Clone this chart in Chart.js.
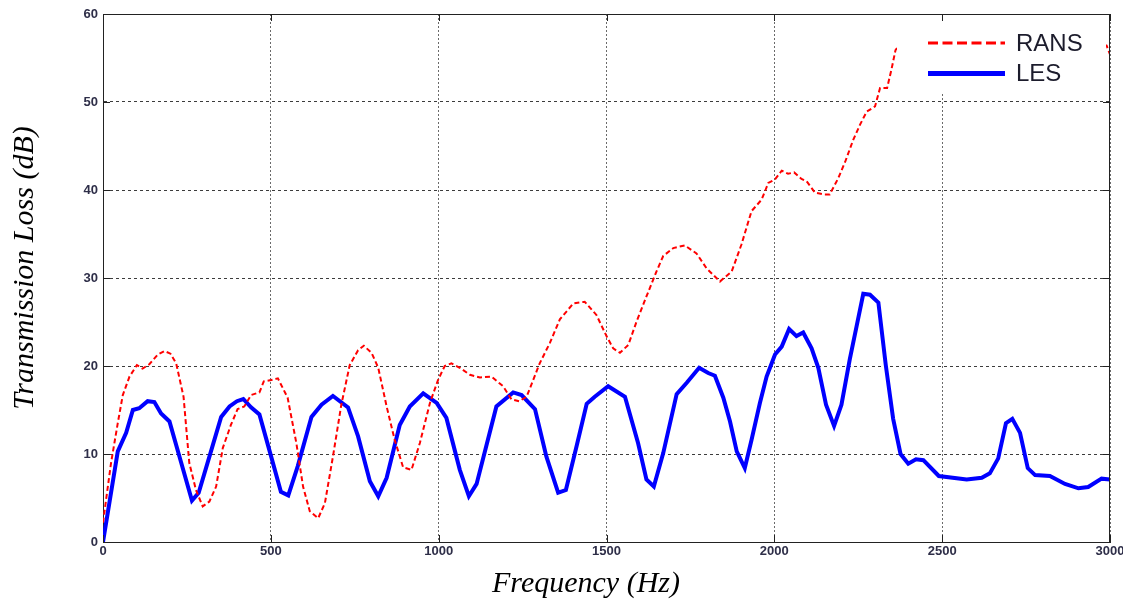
<!DOCTYPE html>
<html>
<head>
<meta charset="utf-8">
<script src="https://cdn.jsdelivr.net/npm/chart.js@4.4.1/dist/chart.umd.min.js"></script>
<style>
  html, body { margin: 0; padding: 0; background: #ffffff; }
  #wrap { width: 1123px; height: 605px; }
</style>
</head>
<body>
<div id="wrap"><canvas id="tl" width="1123" height="605"></canvas></div>
<script>
// Transmission loss spectra, frequency in Hz, TL in dB
const lesFreq = [0, 44, 69, 89, 108, 133, 153, 173, 198, 233, 265, 285, 317, 352, 377, 399, 418, 441, 466,
  501, 530, 552, 580, 621, 651, 685, 730, 760, 795, 820, 845, 884, 914, 954, 994, 1023, 1063, 1090, 1113,
  1172, 1222, 1247, 1287, 1321, 1356, 1379, 1411, 1441, 1465, 1505, 1555, 1594, 1619, 1641, 1669, 1709,
  1739, 1776, 1803, 1823, 1848, 1868, 1888, 1912, 1932, 1957, 1977, 2002, 2022, 2044, 2066, 2086, 2111,
  2131, 2154, 2178, 2200, 2225, 2245, 2265, 2285, 2310, 2332, 2354, 2376, 2399, 2422, 2444, 2490, 2573,
  2618, 2642, 2667, 2690, 2709, 2732, 2755, 2777, 2821, 2866, 2906, 2935, 2975, 3000];
const lesTL = [0, 10.3, 12.4, 15.0, 15.2, 16.0, 15.9, 14.6, 13.7, 9.0, 4.7, 5.6, 9.7, 14.2, 15.4, 16.0, 16.25, 15.3, 14.5,
  9.7, 5.7, 5.3, 8.6, 14.2, 15.6, 16.6, 15.3, 12.0, 6.9, 5.2, 7.3, 13.3, 15.4, 16.9, 15.8, 14.1, 8.2, 5.2, 6.6,
  15.4, 17.0, 16.7, 15.1, 9.7, 5.6, 5.9, 10.9, 15.7, 16.5, 17.7, 16.5, 11.25, 7.1, 6.3, 10.1, 16.8,
  18.1, 19.8, 19.2, 18.9, 16.4, 13.7, 10.3, 8.4, 11.6, 15.8, 18.8, 21.3, 22.2, 24.2, 23.4, 23.8, 22.0,
  19.8, 15.6, 13.2, 15.6, 20.8, 24.5, 28.2, 28.1, 27.2, 20.1, 14.0, 10.0, 8.9, 9.4, 9.3, 7.5, 7.1,
  7.3, 7.8, 9.5, 13.5, 14.0, 12.4, 8.4, 7.6, 7.5, 6.6, 6.1, 6.25, 7.2, 7.1];

const ransFreq = [0, 24, 44, 59, 79, 101, 118, 138, 163, 183, 201, 218, 240, 257, 277, 297, 317, 337, 357, 381,
  401, 421, 441, 466, 479, 501, 521, 550, 576, 596, 616, 641, 661, 685, 710, 735, 760, 777, 800, 820, 845,
  869, 894, 919, 944, 974, 998, 1018, 1038, 1063, 1093, 1123, 1157, 1192, 1217, 1240, 1262, 1301, 1331,
  1361, 1401, 1435, 1470, 1500, 1520, 1540, 1565, 1590, 1619, 1649, 1669, 1699, 1733, 1768, 1798, 1838,
  1873, 1902, 1932, 1962, 1982, 2002, 2022, 2041, 2059, 2081, 2096, 2121, 2146, 2165, 2190, 2212, 2235,
  2255, 2275, 2300, 2315, 2336, 2349, 2361, 2400, 2600, 2800, 2990, 3000];
const ransTL = [2.2, 9.0, 13.5, 16.7, 18.8, 20.1, 19.7, 20.2, 21.3, 21.7, 21.4, 20.3, 16.5, 9.0, 5.9, 4.05, 4.6, 6.3, 10.7, 13.3,
  15.1, 15.4, 16.7, 17.0, 18.25, 18.4, 18.6, 16.4, 11.25, 6.3, 3.5, 2.7, 4.4, 9.7, 15.6, 20.1, 21.8, 22.3, 21.5, 19.8, 15.4,
  11.6, 8.5, 8.2, 11.25, 15.8, 18.4, 20.0, 20.3, 19.8, 19.0, 18.7, 18.8, 17.7, 16.2, 16.0, 16.5, 20.3, 22.6,
  25.3, 27.1, 27.3, 25.8, 23.4, 22.0, 21.5, 22.4, 25.1, 27.9, 30.75, 32.5, 33.4, 33.7, 32.8, 31.1, 29.6,
  30.75, 33.8, 37.6, 38.9, 40.8, 41.2, 42.2, 41.85, 42.0, 41.25, 41.0, 39.7, 39.5, 39.5, 41.3, 43.3, 45.7,
  47.4, 48.9, 49.5, 51.6, 51.6, 53.7, 55.9, 58.0, 59.0, 58.5, 56.4, 55.4];

const xTicks = [0, 500, 1000, 1500, 2000, 2500, 3000];
const yTicks = [0, 10, 20, 30, 40, 50, 60];

const toPoints = (xs, ys) => xs.map((x, i) => ({ x: x, y: ys[i] }));

// Inside tick marks and the full box frame
const frameTicks = {
  id: 'frameTicks',
  afterDraw(chart) {
    const { ctx, chartArea: a, scales: { x, y } } = chart;
    ctx.save();
    ctx.strokeStyle = '#222';
    ctx.lineWidth = 1;
    ctx.beginPath();
    ctx.moveTo(a.left, a.top + 0.5); ctx.lineTo(a.right, a.top + 0.5);
    ctx.moveTo(a.right - 0.5, a.top); ctx.lineTo(a.right - 0.5, a.bottom);
    const len = 7;
    xTicks.forEach(v => {
      const px = Math.round(x.getPixelForValue(v)) + 0.5;
      ctx.moveTo(px, a.bottom); ctx.lineTo(px, a.bottom - len);
      ctx.moveTo(px, a.top); ctx.lineTo(px, a.top + len);
    });
    yTicks.forEach(v => {
      const py = Math.round(y.getPixelForValue(v)) + 0.5;
      ctx.moveTo(a.left, py); ctx.lineTo(a.left + len, py);
      ctx.moveTo(a.right, py); ctx.lineTo(a.right - len, py);
    });
    ctx.stroke();
    ctx.restore();
  }
};

// Legend box drawn over the plot, top-right corner
const boxLegend = {
  id: 'boxLegend',
  afterDatasetsDraw(chart) {
    const { ctx, chartArea: a } = chart;
    const bx = a.right - 213, by = a.top + 2, bw = 209, bh = 78;
    ctx.save();
    ctx.fillStyle = '#ffffff';
    ctx.fillRect(bx, by, bw, bh);
    chart.data.datasets.forEach((ds, i) => {
      const ly = by + 27 + i * 30.5;
      ctx.beginPath();
      ctx.strokeStyle = ds.borderColor;
      ctx.lineWidth = ds.legendWidth;
      ctx.setLineDash(ds.legendDash);
      ctx.moveTo(bx + 31, ly); ctx.lineTo(bx + 108, ly);
      ctx.stroke();
      ctx.setLineDash([]);
      ctx.fillStyle = '#1c1c2c';
      ctx.font = '24px "Liberation Sans", Arial, sans-serif';
      ctx.textBaseline = 'middle';
      ctx.textAlign = 'left';
      ctx.fillText(ds.label, bx + 119, ly + 1);
    });
    ctx.restore();
  }
};

// Axis titles in italic serif
const axisTitles = {
  id: 'axisTitles',
  afterDraw(chart) {
    const { ctx } = chart;
    ctx.save();
    ctx.fillStyle = '#000';
    ctx.font = 'italic 30px "Liberation Serif", "Times New Roman", serif';
    ctx.textAlign = 'center';
    ctx.textBaseline = 'middle';
    ctx.fillText('Frequency (Hz)', 586, 584);
    ctx.translate(25, 268);
    ctx.rotate(-Math.PI / 2);
    ctx.fillText('Transmission Loss (dB)', 0, 0);
    ctx.restore();
  }
};

const tickFont = { family: '"Liberation Sans", Arial, sans-serif', size: 13, weight: 'bold' };

new Chart(document.getElementById('tl'), {
  type: 'line',
  data: {
    datasets: [
      {
        label: 'RANS',
        data: toPoints(ransFreq, ransTL),
        borderColor: '#ff0000',
        borderWidth: 2,
        borderDash: [5, 3],
        legendWidth: 3,
        legendDash: [10, 4.5],
        pointRadius: 0,
        tension: 0,
        fill: false
      },
      {
        label: 'LES',
        data: toPoints(lesFreq, lesTL),
        borderColor: '#0000ff',
        borderWidth: 4,
        legendWidth: 5,
        legendDash: [],
        pointRadius: 0,
        tension: 0,
        fill: false
      }
    ]
  },
  options: {
    responsive: false,
    devicePixelRatio: 1,
    animation: false,
    layout: { padding: { left: 0, top: 14, right: 13, bottom: 0 } },
    plugins: { legend: { display: false }, tooltip: { enabled: false } },
    scales: {
      x: {
        type: 'linear',
        min: 0, max: 3000,
        afterFit(s) { s.height = 63; s.paddingRight = 0; },
        afterBuildTicks(s) { s.ticks = xTicks.map(v => ({ value: v })); },
        ticks: {
          padding: 2,
          color: '#2e2e48',
          font: tickFont,
          maxRotation: 0,
          autoSkip: false,
          callback: v => String(v)
        },
        grid: { color: '#6a6a6a', lineWidth: 1, drawTicks: false },
        border: { display: true, color: '#222', width: 1, dash: [2, 2] }
      },
      y: {
        type: 'linear',
        min: 0, max: 60,
        afterFit(s) { s.width = 103; },
        afterBuildTicks(s) { s.ticks = yTicks.map(v => ({ value: v })); },
        ticks: {
          padding: 5,
          color: '#2e2e48',
          font: tickFont,
          autoSkip: false,
          callback: v => String(v)
        },
        grid: { color: '#3c3c3c', lineWidth: 1, drawTicks: false },
        border: { display: true, color: '#222', width: 1, dash: [3, 3] }
      }
    }
  },
  plugins: [frameTicks, boxLegend, axisTitles]
});
</script>
</body>
</html>
